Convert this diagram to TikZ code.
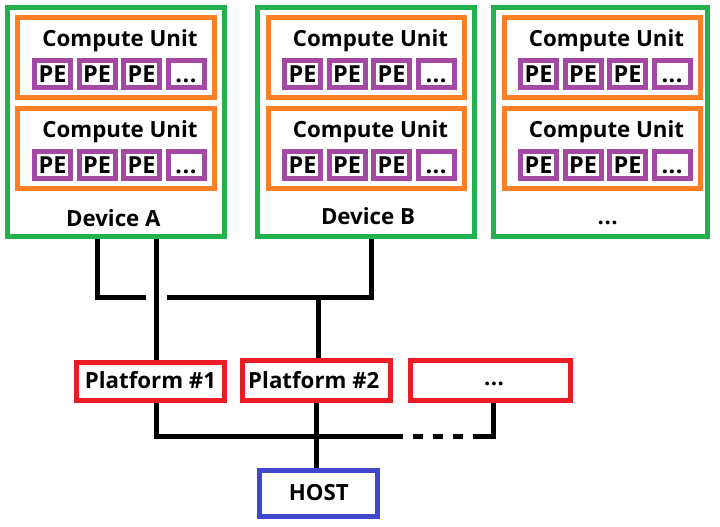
\documentclass[tikz,border=0pt]{standalone}
\usepackage{fontspec}
\setmainfont{Open Sans}
\definecolor{pgreen}{RGB}{34,177,76}
\definecolor{porange}{RGB}{255,127,39}
\definecolor{ppurple}{RGB}{163,73,164}
\definecolor{pred}{RGB}{237,28,36}
\definecolor{pblue}{RGB}{63,72,204}
\newcommand\tdots{.\kern0.02em.\kern0.02em.}
\newcommand\pxbox[6]{\node[#2,minimum width={((#5)-(#3)-5)*0.75pt},minimum height={((#6)-(#4)-5)*0.75pt}] (#1) at ({((#3)+(#5))/2},{((#4)+(#6))/2}) {};}
\tikzset{
  box/.style={draw, rectangle, line width=3.75pt, inner sep=0pt},
  devbox/.style={box, draw=pgreen},
  cubox/.style={box, draw=porange},
  pebox/.style={box, draw=ppurple},
  platbox/.style={box, draw=pred},
  hostbox/.style={box, draw=pblue},
  lbl/.style={font=\bfseries\fontsize{16.7}{20}\selectfont, inner sep=0pt, anchor=base},
  pelbl/.style={font=\bfseries\fontsize{17.6}{20}\selectfont, inner sep=0pt, anchor=base},
  wire/.style={draw=black, line width=3.75pt}
}
\begin{document}
\begin{tikzpicture}[x=0.75pt,y=-0.75pt]
\useasboundingbox[fill=white] (0,0) rectangle (720,527);
\foreach \dn/\xa/\xb/\ca/\cb/\pa/\lx/\ly/\lt in {A/5/227/15/217/32/113.3/227/Device A, B/255/477/266/467/282/368/224/Device B, C/491/710/502/703/518/607.7/224/\tdots}{
  \pxbox{dev\dn}{devbox}{\xa}{5}{\xb}{239}
  \node[lbl] (devlbl\dn) at (\lx,\ly) {\lt};
  \foreach \k/\tp in {1/15,2/106}{
    \pgfmathsetmacro\cbot{\tp+85.5}
    \pxbox{cu\dn\k}{cubox}{\ca}{\tp}{\cb}{\cbot}
    \pgfmathsetmacro\tx{(\ca+\cb)/2+4}
    \pgfmathsetmacro\ty{\tp+31.5}
    \node[lbl] (cut\dn\k) at (\tx,\ty) {Compute Unit};
    \foreach \i/\s in {0/PE,1/PE,2/PE,3/\tdots}{
      \pgfmathsetmacro\pl{\pa+44.5*\i}
      \pgfmathsetmacro\pr{\pl+41}
      \pgfmathsetmacro\ptop{\tp+43.5}
      \pgfmathsetmacro\pbot{\tp+75}
      \pxbox{pe\dn\k\i}{pebox}{\pl}{\ptop}{\pr}{\pbot}
      \pgfmathsetmacro\px{\pl+20.5}
      \pgfmathsetmacro\py{\tp+68}
      \node[pelbl] (pet\dn\k\i) at (\px,\py) {\s};
    }
  }
}
\pxbox{plat1}{platbox}{74}{360}{227}{403}
\pxbox{plat2}{platbox}{240}{358}{393}{403}
\pxbox{plat3}{platbox}{408}{358}{573}{403}
\node[lbl] (plat1lbl) at (150.5,388) {Platform \#1};
\node[lbl] (plat2lbl) at (313.8,388) {Platform \#2};
\node[lbl] (plat3lbl) at (494,385) {\tdots};
\pxbox{host}{hostbox}{257}{468}{380}{518.5}
\node[lbl] (hostlbl) at (318.8,500.5) {HOST};
% wires
\coordinate (a1) at (97.5,297.5);
\coordinate (a1e) at (146,297.5);
\draw[wire] (a1 |- devA.south) -- (a1) -- (a1e);
\coordinate (a2) at (156.5,300);
\draw[wire] (a2 |- devA.south) -- (a2 |- plat1.north);
\coordinate (b0) at (167,297.5);
\coordinate (b1) at (371.5,297.5);
\draw[wire] (b0) -- (b1) -- (b1 |- devB.south);
\coordinate (b2) at (318,297.5);
\draw[wire] (b2) -- (b2 |- plat2.north);
\coordinate (d1) at (156,436);
\coordinate (d2) at (403.3,436);
\coordinate (d3) at (473,436);
\coordinate (d4) at (493.5,436);
\draw[wire] (d1 |- plat1.south) -- (d1) -- (d2);
\draw[wire, dash pattern=on 7.5pt off 7.5pt, dash phase=7.5pt] (d2) -- (d3);
\draw[wire] (d3) -- (d4) -- (d4 |- plat3.south);
\coordinate (e1) at (316,420);
\draw[wire] (e1 |- plat2.south) -- (e1 |- host.north);
\end{tikzpicture}
\end{document}
